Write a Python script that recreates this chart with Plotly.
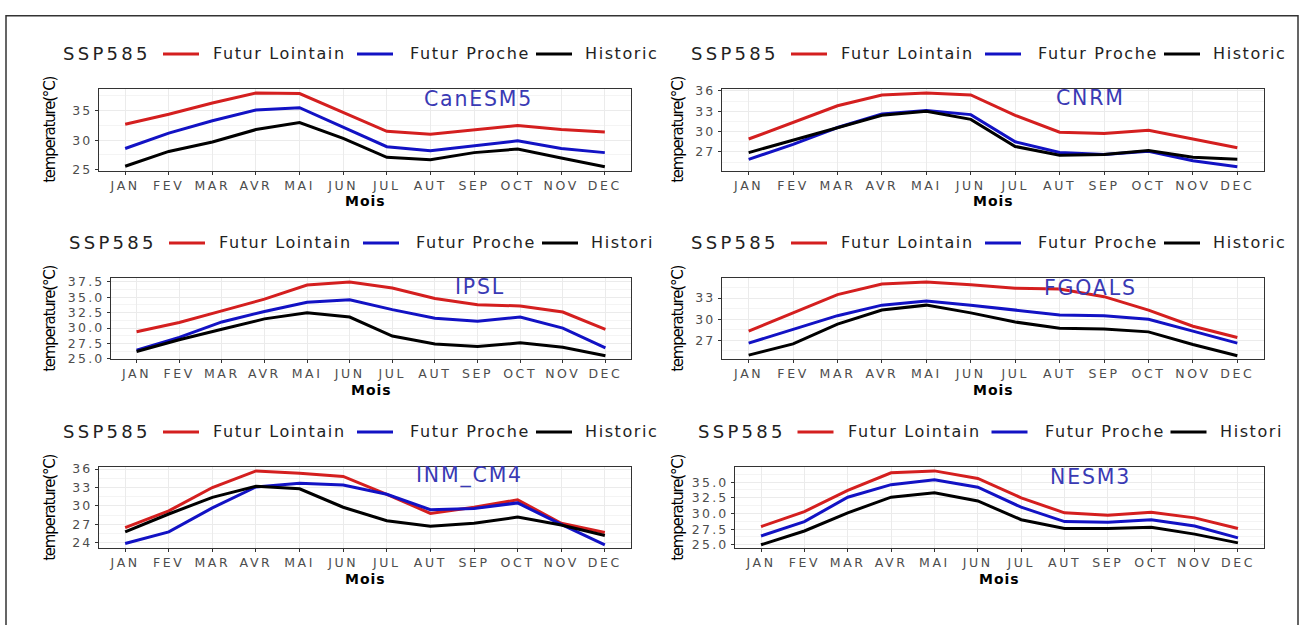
import plotly.graph_objects as go

# ---------------------------------------------------------------- data
MONTHS = ["JAN", "FEV", "MAR", "AVR", "MAI", "JUN", "JUL", "AUT", "SEP", "OCT", "NOV", "DEC"]
SERIES_NAMES = ["Futur Lointain", "Futur Proche", "Historic"]
SERIES_COLORS = ["#d41f1f", "#1212c4", "#000000"]
SCENARIO = "SSP585"

canesm5_lointain = [32.7, 34.4, 36.3, 38.0, 37.9, 34.7, 31.5, 31.0, 31.7, 32.5, 31.8, 31.4]
canesm5_proche = [28.6, 31.2, 33.3, 35.1, 35.5, 32.2, 28.9, 28.2, 29.1, 29.9, 28.6, 27.9]
canesm5_hist = [25.6, 28.1, 29.7, 31.8, 33.0, 30.3, 27.1, 26.7, 27.9, 28.5, 27.0, 25.5]

cnrm_lointain = [28.9, 31.4, 33.8, 35.4, 35.7, 35.4, 32.4, 29.9, 29.7, 30.2, 28.9, 27.6]
cnrm_proche = [25.9, 28.1, 30.6, 32.6, 33.1, 32.5, 28.5, 26.9, 26.6, 27.1, 25.7, 24.8]
cnrm_hist = [26.9, 28.7, 30.6, 32.4, 33.0, 31.8, 27.8, 26.5, 26.6, 27.2, 26.2, 25.9]

ipsl_lointain = [29.4, 30.9, 32.8, 34.7, 37.0, 37.5, 36.5, 34.8, 33.8, 33.6, 32.6, 29.8]
ipsl_proche = [26.4, 28.5, 31.0, 32.7, 34.2, 34.6, 33.0, 31.6, 31.1, 31.8, 30.0, 26.8]
ipsl_hist = [26.2, 28.1, 29.8, 31.5, 32.5, 31.8, 28.7, 27.4, 27.0, 27.6, 26.9, 25.5]

fgoals_lointain = [28.3, 30.9, 33.5, 35.0, 35.3, 34.9, 34.4, 34.3, 33.2, 31.3, 29.0, 27.4]
fgoals_proche = [26.6, 28.6, 30.5, 32.0, 32.6, 32.0, 31.3, 30.6, 30.5, 30.0, 28.3, 26.6]
fgoals_hist = [24.9, 26.5, 29.3, 31.3, 32.0, 30.9, 29.6, 28.7, 28.6, 28.2, 26.4, 24.8]

inm_cm4_lointain = [26.5, 29.2, 33.0, 35.7, 35.3, 34.8, 31.9, 28.8, 29.8, 31.0, 27.2, 25.7]
inm_cm4_proche = [23.9, 25.8, 29.7, 33.1, 33.7, 33.4, 31.9, 29.4, 29.6, 30.5, 27.0, 23.7]
inm_cm4_hist = [25.8, 28.7, 31.4, 33.2, 32.8, 29.8, 27.6, 26.7, 27.2, 28.2, 26.9, 25.2]

nesm3_lointain = [27.9, 30.3, 33.7, 36.5, 36.8, 35.6, 32.5, 30.1, 29.7, 30.2, 29.3, 27.6]
nesm3_proche = [26.4, 28.7, 32.6, 34.6, 35.4, 34.2, 31.0, 28.7, 28.6, 29.0, 28.0, 26.1]
nesm3_hist = [25.0, 27.2, 30.1, 32.6, 33.3, 32.0, 29.0, 27.6, 27.6, 27.8, 26.7, 25.3]

# ---------------------------------------------------------------- page geometry (pixels)
W, H = 1301, 625
FONT = "DejaVu Sans"


def fx(px):
    return px / W


def fy(py):
    return 1 - py / H


def spaced(text, ls):
    return f'<span style="letter-spacing:{ls}px">{text}</span>'


PANELS = [
    dict(model="CanESM5", series=(canesm5_lointain, canesm5_proche, canesm5_hist),
         box=(99, 631, 85, 168), col=0, hist="Historic", yticks=[25, 30, 35], fmt="{:.0f}",
         label_at=(8.1, 37.0)),
    dict(model="CNRM", series=(cnrm_lointain, cnrm_proche, cnrm_hist),
         box=(722, 1264, 85, 168), col=1, hist="Historic", yticks=[27, 30, 33, 36], fmt="{:.0f}",
         label_at=(7.7, 35.0)),
    dict(model="IPSL", series=(ipsl_lointain, ipsl_proche, ipsl_hist),
         box=(111, 631, 278, 361), col=0, hist="Histori", yticks=[25, 27.5, 30, 32.5, 35, 37.5],
         fmt="{:.1f}", label_at=(8.06, 36.7)),
    dict(model="FGOALS", series=(fgoals_lointain, fgoals_proche, fgoals_hist),
         box=(722, 1264, 278, 361), col=1, hist="Historic", yticks=[27, 30, 33], fmt="{:.0f}",
         label_at=(7.7, 34.5)),
    dict(model="INM_CM4", series=(inm_cm4_lointain, inm_cm4_proche, inm_cm4_hist),
         box=(99, 631, 471, 554), col=0, hist="Historic", yticks=[24, 27, 30, 33, 36], fmt="{:.0f}",
         label_at=(7.9, 34.9)),
    dict(model="NESM3", series=(nesm3_lointain, nesm3_proche, nesm3_hist),
         box=(735, 1264, 471, 554), col=1, hist="Histori", yticks=[25, 27.5, 30, 32.5, 35],
         fmt="{:.1f}", label_at=(7.6, 35.8)),
]

YTITLE_X = [50, 678]
TICK_FONT = dict(family=FONT, size=12.5, color="#4d4d4d")

fig = go.Figure()
annotations = []
shapes = []
layout_axes = {}

for i, p in enumerate(PANELS, start=1):
    sfx = "" if i == 1 else str(i)
    left, right, top, bottom = p["box"]

    # series lines
    for name, color, vals in zip(SERIES_NAMES, SERIES_COLORS, p["series"]):
        fig.add_trace(go.Scatter(
            x=MONTHS, y=vals, mode="lines", name=name,
            line=dict(color=color, width=3),
            xaxis="x" + sfx, yaxis="y" + sfx, showlegend=False,
            hovertemplate="%{x}: %{y:.1f}<extra>" + name + "</extra>",
        ))

    allv = [v for s in p["series"] for v in s]
    lo, hi = min(allv), max(allv)
    pad = 0.05 * (hi - lo)
    yr = [lo - pad, hi + pad]
    step = p["yticks"][1] - p["yticks"][0]
    minors = [p["yticks"][0] - step / 2 + k * step for k in range(len(p["yticks"]) + 1)]
    minors = [m for m in minors if yr[0] <= m <= yr[1]]

    layout_axes["xaxis" + sfx] = dict(
        domain=[fx(left), fx(right)], anchor="y" + sfx, type="category",
        range=[-0.6, 11.6], tickmode="array", tickvals=MONTHS,
        ticktext=[spaced(m, 2.6) for m in MONTHS], tickfont=TICK_FONT,
        ticks="outside", ticklen=3, tickwidth=1, tickcolor="#333333",
        showgrid=True, gridcolor="#ebebeb", gridwidth=1,
        showline=True, linecolor="#333333", linewidth=1, mirror=True,
        zeroline=False, fixedrange=True,
    )
    layout_axes["yaxis" + sfx] = dict(
        domain=[fy(bottom), fy(top)], anchor="x" + sfx, range=yr,
        tickmode="array", tickvals=p["yticks"],
        ticktext=[spaced(p["fmt"].format(t), 2.2) for t in p["yticks"]],
        tickfont=TICK_FONT,
        ticks="outside", ticklen=3, tickwidth=1, tickcolor="#333333",
        showgrid=True, gridcolor="#ebebeb", gridwidth=1,
        minor=dict(tickmode="array", tickvals=minors, showgrid=True,
                   gridcolor="#f4f4f4", gridwidth=1, ticks=""),
        showline=True, linecolor="#333333", linewidth=1, mirror=True,
        zeroline=False, fixedrange=True,
    )

    # model name inside the panel
    lx, ly = p["label_at"]
    annotations.append(dict(
        x=lx, y=ly, xref="x" + sfx, yref="y" + sfx, showarrow=False,
        xanchor="center", yanchor="middle",
        text=spaced(p["model"], 1.8), font=dict(family=FONT, size=20.5, color="#3a3ab4"),
    ))

    # axis titles
    cx = (left + right) / 2
    annotations.append(dict(
        x=fx(cx), y=fy(bottom + 31), xref="paper", yref="paper", showarrow=False,
        xanchor="center", yanchor="middle",
        text="<b>" + spaced("Mois", 1) + "</b>", font=dict(family=FONT, size=14, color="#000000"),
    ))
    annotations.append(dict(
        x=fx(YTITLE_X[p["col"]]), y=fy((top + bottom) / 2), xref="paper", yref="paper",
        showarrow=False, textangle=-90, xanchor="center", yanchor="middle",
        text=spaced("temperature(°C)", -1.2), font=dict(family=FONT, size=15, color="#000000"),
    ))

    # legend row above the panel
    s = cx - 304
    ly_px = top - 36
    annotations.append(dict(
        x=fx(s), y=fy(ly_px), xref="paper", yref="paper", showarrow=False,
        xanchor="left", yanchor="middle",
        text=spaced(SCENARIO, 3.3), font=dict(family=FONT, size=18, color="#222222"),
    ))
    key_spans = [(102, 138), (296, 332), (475, 511)]
    text_starts = [150, 347, 522]
    labels = [SERIES_NAMES[0], SERIES_NAMES[1], p["hist"]]
    for (k0, k1), t0, lab, color in zip(key_spans, text_starts, labels, SERIES_COLORS):
        shapes.append(dict(
            type="line", xref="paper", yref="paper",
            x0=fx(s + k0), x1=fx(s + k1), y0=fy(ly_px), y1=fy(ly_px),
            line=dict(color=color, width=3),
        ))
        annotations.append(dict(
            x=fx(s + t0), y=fy(ly_px), xref="paper", yref="paper", showarrow=False,
            xanchor="left", yanchor="middle",
            text=spaced(lab, 1.6), font=dict(family=FONT, size=16, color="#222222"),
        ))

# frame around the whole figure
shapes.append(dict(
    type="rect", xref="paper", yref="paper",
    x0=fx(6), x1=fx(1298), y0=fy(640), y1=fy(10),
    line=dict(color="#333333", width=1.5), fillcolor="rgba(0,0,0,0)", layer="above",
))

fig.update_layout(
    width=W, height=H, margin=dict(l=0, r=0, t=0, b=0),
    paper_bgcolor="white", plot_bgcolor="white",
    showlegend=False, annotations=annotations, shapes=shapes,
    font=dict(family=FONT),
    **layout_axes,
)

fig.write_html("out.html")
